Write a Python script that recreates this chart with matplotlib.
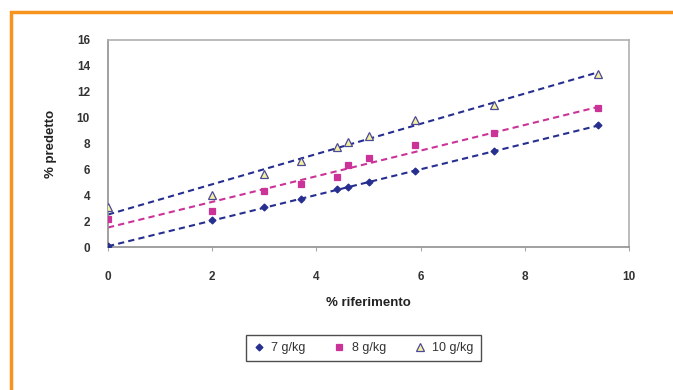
import numpy as np
from matplotlib import pyplot as plt
from matplotlib.patches import Rectangle

plt.rcParams['font.family'] = ['Liberation Sans', 'DejaVu Sans']

# % riferimento
x7 = [0, 2, 3, 3.7, 4.4, 4.6, 5, 5.9, 7.4, 9.4]
x8 = [0, 2, 3, 3.7, 4.4, 4.6, 5, 5.9, 7.4, 9.4]
x10 = [0, 2, 3, 3.7, 4.4, 4.6, 5, 5.9, 7.4, 9.4]

# % predetto
y7 = [0.05, 2.05, 3.1, 3.7, 4.45, 4.6, 5.0, 5.85, 7.4, 9.4]
y8 = [2.15, 2.75, 4.3, 4.85, 5.4, 6.3, 6.9, 7.85, 8.8, 10.75]
y10 = [3.1, 4.0, 5.65, 6.65, 7.75, 8.15, 8.6, 9.85, 11.0, 13.4]

labels = ["7 g/kg", "8 g/kg", "10 g/kg"]
xticks = [0, 2, 4, 6, 8, 10]
yticks = [0, 2, 4, 6, 8, 10, 12, 14, 16]

navy = "#262f8f"
magenta = "#cc3399"

fig = plt.figure(figsize=(6.73, 3.9), dpi=100)
fig.patches.append(Rectangle((11 / 673, -0.1), 1.2, 1.1 - 12 / 390, transform=fig.transFigure,
                             fill=False, edgecolor="#f7941d", linewidth=2.5))

ax = fig.add_axes([108 / 673, 1 - 247 / 390, 521 / 673, 207 / 390])

series = [
    (x7, y7, navy, "D", navy, navy, 3.5),
    (x8, y8, magenta, "s", magenta, magenta, 4),
    (x10, y10, navy, "^", "#f4f0a0", "#4a4a98", 5.5),
]
handles = []
for (xs, ys, col, mk, fc, ec, ms), lab in zip(series, labels):
    h, = ax.plot(xs, ys, linestyle="none", marker=mk, markersize=ms,
                 markerfacecolor=fc, markeredgecolor=ec, markeredgewidth=0.9,
                 label=lab, zorder=3)
    handles.append(h)
    # linear trendline
    k, b = np.polyfit(xs, ys, 1)
    xx = np.array([min(xs), max(xs)])
    ax.plot(xx, k * xx + b, linestyle=(0, (3, 2)), color=col, linewidth=1.5, zorder=2)

ax.set_xlim(0, 10)
ax.set_ylim(0, 16)
ax.set_xticks(xticks)
ax.set_yticks(yticks)
ax.tick_params(axis="x", direction="out", length=3, width=0.8, color="#aaaaaa",
               labelsize=8.5, labelcolor="#333333", pad=14)
ax.tick_params(axis="y", length=0, labelsize=8.5, labelcolor="#333333", pad=13)
for lab in ax.get_xticklabels() + ax.get_yticklabels():
    lab.set_fontweight("bold")
for side in ["top", "right"]:
    ax.spines[side].set_color("#b0b0b0")
for side in ["left", "bottom"]:
    ax.spines[side].set_color("#909090")
for sp in ax.spines.values():
    sp.set_linewidth(1.2)

ax.set_xlabel("% riferimento", fontsize=9.5, fontweight="bold", color="#222222", labelpad=10)
ax.set_ylabel("% predetto", fontsize=9.5, fontweight="bold", color="#222222", labelpad=14)

leg = fig.legend(handles=handles, loc="center", bbox_to_anchor=(363 / 673, 1 - 348 / 390),
                 ncol=3, fontsize=9, frameon=True, fancybox=False, handlelength=1.0,
                 handletextpad=0.5, columnspacing=2.2, borderpad=0.55)
leg.get_frame().set_edgecolor("#222222")
leg.get_frame().set_linewidth(1.0)
for t in leg.get_texts():
    t.set_color("#333333")

fig.savefig("out.png", dpi=100)
